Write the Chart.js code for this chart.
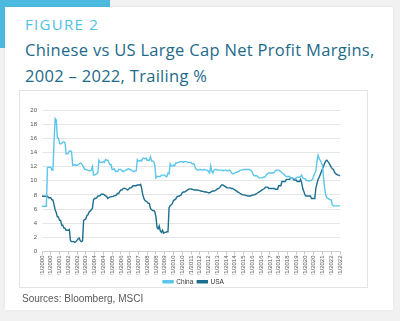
<!DOCTYPE html>
<html>
<head>
<meta charset="utf-8">
<script src="https://cdn.jsdelivr.net/npm/chart.js@4/dist/chart.umd.min.js"></script>
<style>
  html, body { margin: 0; padding: 0; }
  body { width: 400px; height: 321px; background: #f1f1f1; position: relative; overflow: hidden; font-family: "Liberation Sans", Arial, sans-serif; }
  #accent { position: absolute; left: 0; top: 0; width: 110px; height: 48px; background: #4cbadf; }
  #card { position: absolute; left: 5px; top: 7px; width: 388px; height: 303px; background: #fff; box-shadow: 0 0 3px rgba(0,0,0,0.06); }
  #fig { position: absolute; left: 25px; top: 14px; font-family: "Open Sans", sans-serif; font-size: 15px; letter-spacing: 1.3px; color: #4fc0e6; font-weight: 500; }
  .title { position: absolute; left: 25px; font-family: "Open Sans", sans-serif; font-size: 16.5px; letter-spacing: 0.3px; color: #1d6a8a; white-space: nowrap; }
  #t1 { top: 38px; }
  #t2 { top: 64px; }
  #box { position: absolute; left: 19px; top: 90px; width: 347px; height: 196px; border: 1px solid #e3e3e3; background: #fff; }
  #c { position: absolute; left: 0; top: 0; }
  #src { position: absolute; left: 22px; top: 293px; font-size: 10px; color: #5a5a5a; }
</style>
</head>
<body>
<div id="accent"></div>
<div id="card"></div>
<div id="fig">FIGURE 2</div>
<div class="title" id="t1">Chinese vs US Large Cap Net Profit Margins,</div>
<div class="title" id="t2">2002 – 2022, Trailing %</div>
<div id="box"><canvas id="c" width="347" height="204"></canvas></div>
<div id="src">Sources: Bloomberg, MSCI</div>
<script>
// Monthly observations, Jan 2000 – Sep 2022 (one row per year)
const startYear = 2000;
const seriesNames = ["China", "USA"];
const china = [
  6.4, 6.4, 6.4, 6.4, 6.4, 11.9, 11.9, 11.9, 11.9, 11.5, 11.5, 15.5,
  18.8, 18.6, 16.1, 16.0, 15.3, 15.2, 15.3, 15.5, 15.5, 15.4, 13.8, 13.8,
  13.9, 14.2, 14.2, 14.1, 12.2, 12.2, 12.3, 12.2, 12.2, 12.3, 12.4, 12.5,
  12.4, 12.2, 11.9, 11.6, 11.6, 11.5, 11.5, 11.4, 11.4, 11.5, 12.0, 10.8,
  10.8, 10.9, 11.0, 11.1, 12.9, 12.6, 12.6, 12.6, 12.7, 12.6, 13.0, 12.9,
  12.9, 12.6, 12.3, 12.3, 11.6, 11.6, 11.7, 11.3, 11.3, 11.3, 11.6, 11.6,
  11.6, 11.4, 11.3, 11.4, 11.4, 11.6, 11.6, 11.7, 11.6, 11.6, 11.4, 11.4,
  11.3, 11.4, 11.4, 13.0, 12.8, 12.8, 12.9, 12.8, 13.2, 13.2, 13.1, 13.2,
  12.9, 12.9, 12.9, 13.4, 12.8, 12.8, 12.7, 12.1, 10.4, 10.6, 10.6, 10.6,
  10.6, 10.8, 10.8, 10.8, 10.8, 10.6, 10.6, 11.1, 11.0, 12.4, 12.1, 12.1,
  12.2, 12.1, 12.5, 12.5, 12.6, 12.6, 12.7, 12.7, 12.7, 12.6, 12.7, 12.7,
  12.7, 12.6, 12.6, 12.6, 12.6, 12.4, 12.4, 12.3, 11.8, 11.6, 11.5, 11.5,
  11.6, 11.6, 11.5, 11.5, 11.6, 11.5, 11.5, 11.5, 11.3, 11.1, 12.1, 11.3,
  11.1, 11.5, 11.6, 11.6, 11.5, 11.5, 11.5, 11.5, 11.5, 11.4, 11.5, 11.5,
  11.5, 11.4, 11.4, 11.5, 11.4, 11.1, 11.0, 11.0, 11.1, 11.2, 11.2, 11.3,
  11.4, 11.5, 11.5, 11.5, 11.6, 11.6, 11.6, 11.6, 11.6, 11.6, 11.5, 11.4,
  11.2, 10.8, 10.7, 10.7, 10.7, 10.6, 10.4, 10.4, 10.4, 10.4, 10.5, 10.5,
  10.6, 10.9, 11.0, 11.1, 11.1, 11.1, 11.1, 11.1, 11.2, 11.4, 11.5, 11.5,
  11.5, 11.4, 11.3, 11.1, 11.0, 10.9, 10.7, 10.6, 10.6, 10.6, 10.6, 10.4,
  10.3, 10.3, 10.3, 10.3, 10.4, 10.5, 10.5, 10.5, 10.6, 10.8, 10.4, 10.3,
  10.3, 10.1, 10.0, 10.0, 10.0, 10.0, 10.1, 10.2, 10.7, 11.1, 11.4, 12.8,
  13.6, 13.1, 12.9, 12.5, 12.2, 10.4, 8.9, 8.0, 7.6, 7.5, 7.4, 7.3,
  7.3, 6.6, 6.45, 6.45, 6.45, 6.45, 6.45, 6.45, 6.45
];
const usa = [
  7.8, 7.8, 7.8, 7.8, 7.8, 7.8, 7.6, 7.6, 7.6, 7.3, 7.3, 6.6,
  5.9, 5.5, 4.9, 4.9, 4.4, 4.4, 3.7, 3.7, 3.3, 3.3, 3.0, 3.0,
  3.0, 3.1, 1.5, 1.4, 1.4, 1.4, 1.3, 1.4, 1.6, 1.8, 1.9, 1.5,
  1.4, 1.5, 4.4, 4.5, 4.6, 5.1, 5.2, 5.6, 5.7, 5.9, 6.1, 7.3,
  7.5, 7.5, 7.6, 7.85, 7.85, 7.9, 8.1, 8.1, 8.1, 8.0, 7.85, 7.8,
  7.5, 7.6, 7.7, 7.75, 7.75, 7.8, 7.9, 7.9, 8.0, 8.2, 8.2, 8.5,
  8.7, 8.7, 8.9, 8.95, 8.9, 8.8, 8.7, 8.8, 9.0, 9.0, 9.1, 9.3,
  9.3, 9.3, 9.3, 9.4, 9.4, 9.4, 9.5, 8.9, 8.0, 7.5, 7.2, 7.1,
  7.0, 6.8, 6.8, 6.1, 5.9, 5.8, 5.8, 5.6, 4.9, 3.4, 3.2, 3.6,
  2.9, 2.7, 3.0, 2.6, 2.7, 2.7, 2.8, 2.8, 6.2, 6.5, 6.6, 6.8,
  7.2, 7.3, 7.4, 7.7, 7.8, 7.8, 7.9, 8.0, 8.3, 8.4, 8.4, 8.5,
  8.6, 8.7, 8.8, 8.85, 8.85, 8.8, 8.75, 8.7, 8.7, 8.7, 8.7, 8.65,
  8.6, 8.55, 8.5, 8.5, 8.45, 8.4, 8.4, 8.35, 8.3, 8.3, 8.4, 8.5,
  8.55, 8.55, 8.6, 8.7, 8.85, 8.9, 9.0, 9.2, 9.4, 9.4, 9.3, 9.2,
  9.1, 9.0, 9.0, 9.0, 9.0, 8.9, 8.9, 8.8, 8.7, 8.6, 8.5, 8.4,
  8.3, 8.2, 8.1, 8.0, 8.0, 8.0, 7.9, 7.9, 7.85, 7.85, 7.85, 7.9,
  7.95, 8.0, 8.0, 8.1, 8.2, 8.3, 8.4, 8.5, 8.6, 8.7, 8.8, 8.9,
  9.1, 9.1, 9.1, 8.9, 8.9, 8.9, 8.9, 8.9, 8.9, 8.8, 8.8, 8.8,
  9.3, 9.3, 9.3, 9.9, 9.9, 9.9, 9.9, 10.2, 10.2, 10.2, 10.2, 10.35,
  10.35, 10.35, 10.1, 10.1, 10.1, 9.9, 9.9, 9.9, 10.2, 9.7, 8.9, 8.5,
  8.0, 7.85, 7.85, 7.85, 7.85, 7.85, 7.5, 7.5, 7.5, 7.5, 9.0, 9.6,
  10.2, 10.5, 10.9, 11.3, 11.7, 12.0, 12.5, 12.8, 12.9, 12.7, 12.5, 12.2,
  11.9, 11.7, 11.6, 11.2, 11.0, 10.9, 10.8, 10.8, 10.7
];
const yTicks = [0, 2, 4, 6, 8, 10, 12, 14, 16, 18, 20];
const labelEvery = 8; // a date label every 8 months

// category labels: M/1/YYYY for each month
const labels = china.map((_, i) => ((i % 12) + 1) + "/1/" + (startYear + Math.floor(i / 12)));

const chinaColor = "#5bc6ea";
const usaColor = "#1b6e8e";

new Chart(document.getElementById("c"), {
  type: "line",
  data: {
    labels: labels,
    datasets: [
      { label: seriesNames[0], data: china, borderColor: chinaColor, backgroundColor: chinaColor, borderWidth: 1.4, pointRadius: 0, tension: 0 },
      { label: seriesNames[1], data: usa, borderColor: usaColor, backgroundColor: usaColor, borderWidth: 1.4, pointRadius: 0, tension: 0 }
    ]
  },
  options: {
    responsive: false,
    animation: false,
    layout: { padding: { left: 0, right: 0, top: 19, bottom: 0 } },
    plugins: {
      tooltip: { enabled: false },
      legend: {
        position: "bottom",
        labels: { boxWidth: 10, boxHeight: 2, padding: 4, color: "#333", font: { family: "Liberation Sans", size: 6.5 } }
      }
    },
    scales: {
      x: {
        type: "category",
        offset: false,
        grid: {
          drawOnChartArea: false,
          tickLength: 3,
          color: (ctx) => (ctx.index % labelEvery === 0 ? "#c8c8c8" : "rgba(0,0,0,0)")
        },
        border: { color: "#d0d0d0" },
        ticks: {
          autoSkip: false,
          maxRotation: 90,
          minRotation: 90,
          padding: 1,
          color: "#555",
          font: { family: "Liberation Sans", size: 6 },
          callback: function (v, i) { return i % labelEvery === 0 ? labels[i] : ""; }
        },
        afterFit: (s) => { s.height = 23; }
      },
      y: {
        min: 0,
        max: 20,
        afterBuildTicks: (s) => { s.ticks = yTicks.map(v => ({ value: v })); },
        grid: { color: "#e6e6e6", lineWidth: 1, drawTicks: false },
        border: { display: false },
        ticks: { padding: 5, color: "#555", font: { family: "Liberation Sans", size: 6 } },
        afterFit: (s) => { s.width = 22; }
      },
      spacer: {
        type: "linear",
        position: "right",
        display: true,
        grid: { display: false },
        border: { display: false },
        ticks: { display: false },
        afterFit: (s) => { s.width = 27; }
      }
    }
  }
});
</script>
</body>
</html>
